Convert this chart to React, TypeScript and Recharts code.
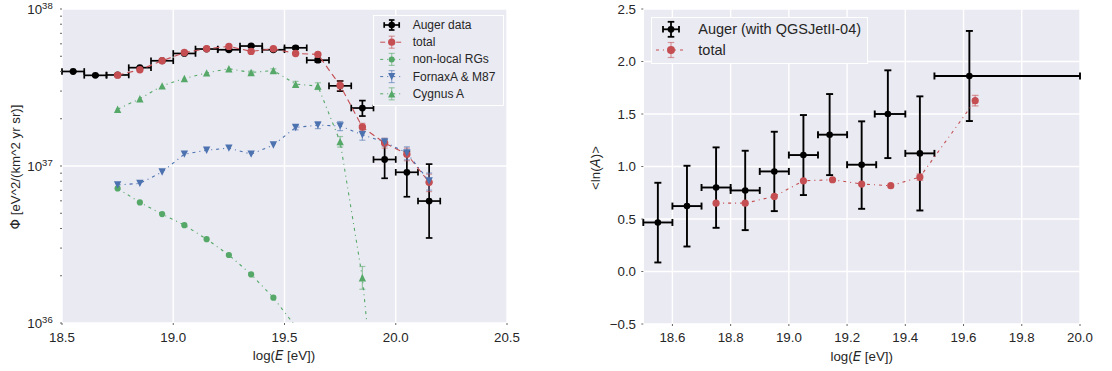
import React from 'react';
import { ComposedChart, Scatter, XAxis, YAxis, CartesianGrid, ErrorBar, Legend } from 'recharts';

// seaborn "deep" palette on a darkgrid background
const BG = '#EAEAF2';
const INK = '#262626';
const TICK_MARK = '#666666';
const RED = '#C44E52';
const GREEN = '#55A868';
const BLUE = '#4C72B0';
const BLACK = '#000000';
const FONT = '"Liberation Sans", Arial, Helvetica, sans-serif';
const MATH_FONT = '"DejaVu Sans", "Liberation Sans", sans-serif';

// ---------------- flux spectrum (left panel) ----------------
const fluxMin = 1e36;
const fluxMax = 1e38;
const fluxMajorTicks = [1e36, 1e37, 1e38];
const fluxMajorExps = ['36', '37', '38'];
const fluxAllTicks = [
  1e36, 2e36, 3e36, 4e36, 5e36, 6e36, 7e36, 8e36, 9e36,
  1e37, 2e37, 3e37, 4e37, 5e37, 6e37, 7e37, 8e37, 9e37,
  1e38,
];
const energyTicksLeft = [18.5, 19.0, 19.5, 20.0, 20.5];
const energyTickLabelsLeft = ['18.5', '19.0', '19.5', '20.0', '20.5'];
const leftLegendLabels = ['Auger data', 'total', 'non-local RGs', 'FornaxA & M87', 'Cygnus A'];

const augerE = [18.55, 18.65, 18.75, 18.85, 18.95, 19.05, 19.15, 19.25, 19.35, 19.45, 19.55, 19.65, 19.75, 19.85, 19.95, 20.05, 20.15];
const augerFlux = [4.0e37, 3.78e37, 3.8e37, 4.23e37, 4.68e37, 5.21e37, 5.56e37, 5.5e37, 5.81e37, 5.5e37, 5.66e37, 4.72e37, 3.24e37, 2.34e37, 1.1e37, 9.12e36, 5.98e36];
const augerFluxLo = [0.4e36, 0.4e36, 0.4e36, 0.5e36, 0.5e36, 0.6e36, 0.6e36, 0.7e36, 0.8e36, 0.9e36, 1.0e36, 1.2e36, 2.4e36, 2.6e36, 2.65e36, 2.75e36, 2.5e36];
const augerFluxHi = [0.4e36, 0.4e36, 0.4e36, 0.5e36, 0.5e36, 0.6e36, 0.6e36, 0.7e36, 0.8e36, 0.9e36, 1.0e36, 1.2e36, 2.4e36, 2.7e36, 3.2e36, 3.3e36, 4.3e36];
const augerBinLo = [0.05, 0.05, 0.05, 0.05, 0.05, 0.05, 0.05, 0.05, 0.05, 0.05, 0.05, 0.05, 0.05, 0.05, 0.05, 0.05, 0.05];
const augerBinHi = [0.05, 0.05, 0.05, 0.05, 0.05, 0.05, 0.05, 0.05, 0.05, 0.05, 0.05, 0.05, 0.05, 0.05, 0.05, 0.05, 0.05];

const modelE = [18.75, 18.85, 18.95, 19.05, 19.15, 19.25, 19.35, 19.45, 19.55, 19.65, 19.75, 19.85, 19.95, 20.05, 20.15];
const totalFlux = [3.79e37, 4.1e37, 4.68e37, 5.28e37, 5.58e37, 5.78e37, 5.37e37, 5.58e37, 5.21e37, 5.14e37, 3.26e37, 1.77e37, 1.4e37, 1.19e37, 7.87e36];
const totalFluxErr = [0, 0, 0, 0, 0, 0, 0, 0, 0, 0, 2.2e36, 1.0e36, 1.0e36, 1.1e36, 1.0e36];

const nonLocalE = [18.75, 18.85, 18.95, 19.05, 19.15, 19.25, 19.35, 19.45, 19.55];
const nonLocalFlux = [7.2e36, 5.86e36, 4.94e36, 4.2e36, 3.42e36, 2.71e36, 2.04e36, 1.45e36, 9.5e35];

const fornaxFlux = [7.57e36, 7.75e36, 9.16e36, 1.19e37, 1.26e37, 1.3e37, 1.19e37, 1.36e37, 1.76e37, 1.82e37, 1.8e37, 1.58e37, 1.42e37, 1.21e37, 8.02e36];
const fornaxFluxErr = [0, 0, 0, 0, 0, 0, 0, 0, 0.6e36, 0.9e36, 1.2e36, 1.2e36, 0.8e36, 1.15e36, 1.0e36];

const cygnusE = [18.75, 18.85, 18.95, 19.05, 19.15, 19.25, 19.35, 19.45, 19.55, 19.65, 19.75, 19.85, 19.95];
const cygnusFlux = [2.3e37, 2.68e37, 3.24e37, 3.61e37, 3.92e37, 4.16e37, 3.94e37, 4.06e37, 3.32e37, 3.23e37, 1.43e37, 1.94e36, 7.0e34];
const cygnusFluxLo = [0, 0, 0, 0, 0, 0, 0.8e36, 1.0e36, 1.4e36, 1.6e36, 1.1e36, 0.3e36, 0];
const cygnusFluxHi = [0, 0, 0, 0, 0, 0, 0.8e36, 1.0e36, 1.4e36, 1.6e36, 1.1e36, 0.35e36, 0];

// ---------------- mean log mass (right panel) ----------------
const energyMinRight = 18.5;
const energyMaxRight = 20.0;
const energyTicksRight = [18.6, 18.8, 19.0, 19.2, 19.4, 19.6, 19.8, 20.0];
const energyTickLabelsRight = ['18.6', '18.8', '19.0', '19.2', '19.4', '19.6', '19.8', '20.0'];
const lnATicks = [-0.5, 0, 0.5, 1, 1.5, 2, 2.5];
const lnATickLabels = ['\u22120.5', '0.0', '0.5', '1.0', '1.5', '2.0', '2.5'];
const rightLegendLabels = ['Auger (with QGSJetII-04)', 'total'];

const lnAE = [18.55, 18.65, 18.75, 18.85, 18.95, 19.05, 19.14, 19.25, 19.34, 19.45, 19.62];
const lnAValue = [0.467, 0.623, 0.8, 0.772, 0.953, 1.109, 1.303, 1.017, 1.5, 1.125, 1.862];
const lnALo = [0.381, 0.385, 0.384, 0.378, 0.378, 0.381, 0.385, 0.42, 0.42, 0.544, 0.429];
const lnAHi = [0.378, 0.384, 0.382, 0.378, 0.378, 0.381, 0.387, 0.413, 0.416, 0.543, 0.429];
const lnABinLo = [0.05, 0.05, 0.05, 0.05, 0.05, 0.05, 0.04, 0.05, 0.045, 0.05, 0.12];
const lnABinHi = [0.05, 0.05, 0.05, 0.05, 0.05, 0.05, 0.06, 0.05, 0.06, 0.05, 0.5];

const lnAModelE = [18.75, 18.85, 18.95, 19.05, 19.15, 19.25, 19.35, 19.45, 19.64];
const lnAModel = [0.651, 0.651, 0.715, 0.864, 0.874, 0.833, 0.817, 0.899, 1.627];
const lnAModelErr = [0, 0, 0, 0, 0, 0, 0, 0.03, 0.05];

type Pt = { x: number; y: number; ex?: [number, number]; ey?: [number, number] };

function makePoints(
  xs: number[],
  ys: number[],
  yLo?: number[],
  yHi?: number[],
  xLo?: number[],
  xHi?: number[],
  xRange?: [number, number],
): Pt[] {
  return xs.map((x, i) => {
    const p: Pt = { x, y: ys[i] };
    if (yLo && yHi && (yLo[i] > 0 || yHi[i] > 0)) p.ey = [yLo[i], yHi[i]];
    if (xLo && xHi && (xLo[i] > 0 || xHi[i] > 0)) {
      // horizontal bins are cut at the edges of the plotted energy range
      const lo = xRange ? Math.min(xLo[i], x - xRange[0]) : xLo[i];
      const hi = xRange ? Math.min(xHi[i], xRange[1] - x) : xHi[i];
      p.ex = [lo, hi];
    }
    return p;
  });
}

const augerRows = makePoints(augerE, augerFlux, augerFluxLo, augerFluxHi, augerBinLo, augerBinHi);
const totalRows = makePoints(modelE, totalFlux, totalFluxErr, totalFluxErr);
const nonLocalRows = makePoints(nonLocalE, nonLocalFlux);
const fornaxRows = makePoints(modelE, fornaxFlux, fornaxFluxErr, fornaxFluxErr);
const cygnusRows = makePoints(cygnusE, cygnusFlux, cygnusFluxLo, cygnusFluxHi);

const lnARows = makePoints(lnAE, lnAValue, lnALo, lnAHi, lnABinLo, lnABinHi, [energyMinRight, energyMaxRight]);
const lnAModelRows = makePoints(lnAModelE, lnAModel, lnAModelErr, lnAModelErr);

// ---------------- markers ----------------
const inFluxRange = (p: any) => !(p && p.payload && typeof p.payload.y === 'number' && p.payload.y < fluxMin);

const dotShape = (r: number, color: string, guard = false) => (p: any) => {
  if (p.cx == null || p.cy == null || (guard && !inFluxRange(p))) return <g />;
  return <circle cx={p.cx} cy={p.cy} r={r} fill={color} />;
};

function triPath(cx: number, cy: number, s: number, down: boolean) {
  const d = down ? -1 : 1;
  return `M${cx},${cy - d * s} L${cx + s},${cy + d * s} L${cx - s},${cy + d * s} Z`;
}

const triShape = (s: number, color: string, down: boolean) => (p: any) => {
  if (p.cx == null || p.cy == null || !inFluxRange(p)) return <g />;
  return <path d={triPath(p.cx, p.cy, s, down)} fill={color} />;
};

// ---------------- ticks & titles ----------------
const FluxTick = (props: any) => {
  const { x, y, payload } = props;
  const idx = fluxMajorTicks.indexOf(payload.value);
  if (idx < 0) return <g />;
  return (
    <text x={x} y={y} textAnchor="end" dominantBaseline="central" fill={INK} fontFamily={FONT} fontSize={13.3}>
      10
      <tspan fontSize={9.5} dy={-4.5}>{fluxMajorExps[idx]}</tspan>
    </text>
  );
};

const fmtFrom = (values: number[], labels: string[]) => (v: number) => {
  const i = values.findIndex((t) => Math.abs(t - v) < 1e-9);
  return i >= 0 ? labels[i] : String(v);
};

const EnergyTitle = ({ tx, ty }: any) => (
  <text x={tx} y={ty} textAnchor="middle" fill={INK} fontFamily={FONT} fontSize={13.3}>
    log(<tspan fontFamily={MATH_FONT} fontStyle="italic">E</tspan> [eV])
  </text>
);

const FluxTitle = ({ tx, ty }: any) => (
  <text x={tx} y={ty} transform={`rotate(-90, ${tx}, ${ty})`} textAnchor="middle" fill={INK} fontFamily={FONT} fontSize={13.3}>
    <tspan fontFamily={MATH_FONT}>Φ</tspan> [eV^2/(km^2 yr sr)]
  </text>
);

const LnATitle = ({ tx, ty }: any) => (
  <text x={tx} y={ty} transform={`rotate(-90, ${tx}, ${ty})`} textAnchor="middle" fill={INK} fontFamily={FONT} fontSize={13.3}>
    {'<ln('}<tspan fontFamily={MATH_FONT} fontStyle="italic">A</tspan>{')>'}
  </text>
);

// only the decade lines of the log axis get a grid line
const majorFluxIndex = fluxAllTicks.map((t, i) => (fluxMajorTicks.includes(t) ? i : -1)).filter((i) => i >= 0);
const decadeGridLine = (p: any) => {
  if (!majorFluxIndex.includes(p.index)) return <g key={p.key} />;
  return <line key={p.key} x1={p.x1} y1={p.y1} x2={p.x2} y2={p.y2} stroke="#FFFFFF" strokeWidth={1.4} />;
};

// ---------------- legends ----------------
function Glyph(props: any) {
  const { cx, cy, color, marker, dash, half = 0, lineWidth = 1, errHalf = 0, xHalf = 0, cap = 3, errWidth = 1.2, errOpacity = 1, size = 3.5 } = props;
  return (
    <g>
      {half > 0 && (
        <line x1={cx - half} x2={cx + half} y1={cy} y2={cy} stroke={color} strokeWidth={lineWidth} strokeDasharray={dash} />
      )}
      {errHalf > 0 && (
        <g stroke={color} strokeOpacity={errOpacity} strokeWidth={errWidth}>
          <line x1={cx} x2={cx} y1={cy - errHalf} y2={cy + errHalf} />
          <line x1={cx - cap} x2={cx + cap} y1={cy - errHalf} y2={cy - errHalf} />
          <line x1={cx - cap} x2={cx + cap} y1={cy + errHalf} y2={cy + errHalf} />
        </g>
      )}
      {xHalf > 0 && (
        <g stroke={color} strokeOpacity={errOpacity} strokeWidth={errWidth}>
          <line x1={cx - xHalf} x2={cx + xHalf} y1={cy} y2={cy} />
          <line x1={cx - xHalf} x2={cx - xHalf} y1={cy - cap} y2={cy + cap} />
          <line x1={cx + xHalf} x2={cx + xHalf} y1={cy - cap} y2={cy + cap} />
        </g>
      )}
      {marker === 'circle' && <circle cx={cx} cy={cy} r={size} fill={color} />}
      {marker === 'up' && <path d={triPath(cx, cy, size, false)} fill={color} />}
      {marker === 'down' && <path d={triPath(cx, cy, size, true)} fill={color} />}
    </g>
  );
}

const LeftLegend = () => {
  const w = 131;
  const h = 91;
  const gx = 18.7;
  const tx = 39.7;
  const rows = [10, 27.2, 44.4, 61.6, 78.8];
  return (
    <svg width={w} height={h} style={{ display: 'block' }}>
      <rect x={0.5} y={0.5} width={w - 1} height={h - 1} fill={BG} stroke="#FFFFFF" strokeWidth={1} />
      <Glyph cx={gx} cy={rows[0]} color={BLACK} marker="circle" size={3.3} errHalf={5} xHalf={7.5} cap={2.8} errWidth={1.7} />
      <Glyph cx={gx} cy={rows[1]} color={RED} marker="circle" size={3.6} half={11.5} dash="5 3" errHalf={6} cap={3} errOpacity={0.55} />
      <Glyph cx={gx} cy={rows[2]} color={GREEN} marker="circle" size={3} half={11.5} dash="3 4 1 4" errHalf={6} cap={3} errOpacity={0.55} />
      <Glyph cx={gx} cy={rows[3]} color={BLUE} marker="down" size={3.6} half={11.5} dash="3 4 1 4" errHalf={6} cap={3} errOpacity={0.55} />
      <Glyph cx={gx} cy={rows[4]} color={GREEN} marker="up" size={3.6} half={11.5} dash="3 4 1 4" errHalf={6} cap={3} errOpacity={0.55} />
      {leftLegendLabels.map((label, i) => (
        <text key={label} x={tx} y={rows[i]} dominantBaseline="central" fill={INK} fontFamily={FONT} fontSize={12}>
          {label}
        </text>
      ))}
    </svg>
  );
};

const RightLegend = () => {
  const w = 217;
  const h = 47;
  const gx = 20;
  const tx = 47.3;
  const rows = [12.3, 33];
  return (
    <svg width={w} height={h} style={{ display: 'block' }}>
      <rect x={0.5} y={0.5} width={w - 1} height={h - 1} fill={BG} stroke="#FFFFFF" strokeWidth={1} />
      <Glyph cx={gx} cy={rows[0]} color={BLACK} marker="circle" size={3.4} errHalf={7.5} xHalf={8} cap={3.3} errWidth={1.8} />
      <Glyph cx={gx} cy={rows[1]} color={RED} marker="circle" size={4} half={15} dash="3 4 1 4" errHalf={7.5} cap={3.3} errOpacity={0.55} />
      {rightLegendLabels.map((label, i) => (
        <text key={label} x={tx} y={rows[i]} dominantBaseline="central" fill={INK} fontFamily={FONT} fontSize={14.5}>
          {label}
        </text>
      ))}
    </svg>
  );
};

const tickStyle = { fill: INK, fontSize: 13.3, fontFamily: FONT };
const tickLineStyle = { stroke: TICK_MARK, strokeWidth: 1 };

function FluxPanel() {
  return (
    <ComposedChart width={520} height={371} margin={{ top: 9, right: 13, bottom: 0, left: 0 }}>
      <CartesianGrid fill={BG} fillOpacity={1} stroke="#FFFFFF" strokeWidth={1.4} horizontal={decadeGridLine} />
      <XAxis
        type="number"
        dataKey="x"
        domain={[18.5, 20.5]}
        allowDataOverflow
        ticks={energyTicksLeft}
        interval={0}
        tickFormatter={fmtFrom(energyTicksLeft, energyTickLabelsLeft)}
        axisLine={false}
        tickLine={tickLineStyle}
        tickSize={2}
        tickMargin={7.3}
        tick={tickStyle}
        height={48}
        label={<EnergyTitle tx={284} ty={360} />}
      />
      <YAxis
        type="number"
        dataKey="y"
        scale="log"
        domain={[fluxMin, fluxMax]}
        allowDataOverflow
        ticks={fluxAllTicks}
        interval={0}
        axisLine={false}
        tickLine={tickLineStyle}
        tickSize={2}
        tickMargin={7.3}
        tick={<FluxTick />}
        width={62}
        label={<FluxTitle tx={20} ty={167} />}
      />
      <YAxis
        yAxisId="mirror"
        orientation="right"
        type="number"
        scale="log"
        domain={[fluxMin, fluxMax]}
        allowDataOverflow
        ticks={fluxAllTicks}
        interval={0}
        axisLine={false}
        tickLine={tickLineStyle}
        tickSize={2}
        tick={false}
        width={0}
      />

      <Scatter data={augerRows} isAnimationActive={false} shape={dotShape(3.4, BLACK)}>
        <ErrorBar dataKey="ey" direction="y" width={3.3} stroke={BLACK} strokeWidth={1.7} isAnimationActive={false} />
        <ErrorBar dataKey="ex" direction="x" width={3.3} stroke={BLACK} strokeWidth={1.7} isAnimationActive={false} />
      </Scatter>

      <Scatter
        data={totalRows}
        isAnimationActive={false}
        shape={dotShape(3.7, RED, true)}
        line={{ stroke: RED, strokeWidth: 1.1, strokeDasharray: '6 4' }}
        lineJointType="linear"
      >
        <ErrorBar dataKey="ey" direction="y" width={3} stroke={RED} strokeOpacity={0.55} strokeWidth={1.2} isAnimationActive={false} />
      </Scatter>

      <Scatter
        data={nonLocalRows}
        isAnimationActive={false}
        shape={dotShape(3.1, GREEN, true)}
        line={{ stroke: GREEN, strokeWidth: 1.1, strokeDasharray: '3 4 1 4' }}
        lineJointType="linear"
      />

      <Scatter
        data={fornaxRows}
        isAnimationActive={false}
        shape={triShape(3.7, BLUE, true)}
        line={{ stroke: BLUE, strokeWidth: 1.1, strokeDasharray: '3 4 1 4' }}
        lineJointType="linear"
      >
        <ErrorBar dataKey="ey" direction="y" width={3} stroke={BLUE} strokeOpacity={0.55} strokeWidth={1.2} isAnimationActive={false} />
      </Scatter>

      <Scatter
        data={cygnusRows}
        isAnimationActive={false}
        shape={triShape(3.7, GREEN, false)}
        line={{ stroke: GREEN, strokeWidth: 1.1, strokeDasharray: '3 4 1 4' }}
        lineJointType="linear"
      >
        <ErrorBar dataKey="ey" direction="y" width={3} stroke={GREEN} strokeOpacity={0.55} strokeWidth={1.2} isAnimationActive={false} />
      </Scatter>

      <Legend
        layout="vertical"
        align="center"
        verticalAlign="middle"
        content={<LeftLegend />}
        wrapperStyle={{ left: 373, top: 15, width: 131, height: 91 }}
      />
    </ComposedChart>
  );
}

function CompositionPanel() {
  return (
    <ComposedChart width={532} height={371} margin={{ top: 9, right: 32, bottom: 0, left: 0 }}>
      <CartesianGrid fill={BG} fillOpacity={1} stroke="#FFFFFF" strokeWidth={1.4} />
      <XAxis
        type="number"
        dataKey="x"
        domain={[energyMinRight, energyMaxRight]}
        allowDataOverflow
        ticks={energyTicksRight}
        interval={0}
        tickFormatter={fmtFrom(energyTicksRight, energyTickLabelsRight)}
        axisLine={false}
        tickLine={tickLineStyle}
        tickSize={2}
        tickMargin={6.6}
        tick={tickStyle}
        height={47}
        label={<EnergyTitle tx={281.7} ty={360.5} />}
      />
      <YAxis
        type="number"
        dataKey="y"
        domain={[-0.5, 2.5]}
        allowDataOverflow
        ticks={lnATicks}
        interval={0}
        tickFormatter={fmtFrom(lnATicks, lnATickLabels)}
        axisLine={false}
        tickLine={tickLineStyle}
        tickSize={2}
        tickMargin={5.3}
        tick={tickStyle}
        width={63.3}
        label={<LnATitle tx={20} ty={168} />}
      />
      <YAxis
        yAxisId="mirror"
        orientation="right"
        type="number"
        domain={[-0.5, 2.5]}
        allowDataOverflow
        ticks={lnATicks}
        interval={0}
        axisLine={false}
        tickLine={tickLineStyle}
        tickSize={2}
        tick={false}
        width={0}
      />

      <Scatter data={lnARows} isAnimationActive={false} shape={dotShape(3.3, BLACK)}>
        <ErrorBar dataKey="ey" direction="y" width={3.5} stroke={BLACK} strokeWidth={1.9} isAnimationActive={false} />
        <ErrorBar dataKey="ex" direction="x" width={3.5} stroke={BLACK} strokeWidth={1.9} isAnimationActive={false} />
      </Scatter>

      <Scatter
        data={lnAModelRows}
        isAnimationActive={false}
        shape={dotShape(3.6, RED)}
        line={{ stroke: RED, strokeWidth: 1.1, strokeDasharray: '3 4 1 4' }}
        lineJointType="linear"
      >
        <ErrorBar dataKey="ey" direction="y" width={3.3} stroke={RED} strokeOpacity={0.55} strokeWidth={1.3} isAnimationActive={false} />
      </Scatter>

      <Legend
        layout="vertical"
        align="center"
        verticalAlign="middle"
        content={<RightLegend />}
        wrapperStyle={{ left: 71, top: 17, width: 217, height: 47 }}
      />
    </ComposedChart>
  );
}

export default function App() {
  return (
    <div style={{ position: 'absolute', left: 0, top: 0, width: 1112, height: 371, background: '#FFFFFF' }}>
      <div style={{ position: 'absolute', left: 0, top: 0, width: 520, height: 371 }}>
        <FluxPanel />
      </div>
      <div style={{ position: 'absolute', left: 580, top: 0, width: 532, height: 371 }}>
        <CompositionPanel />
      </div>
    </div>
  );
}
